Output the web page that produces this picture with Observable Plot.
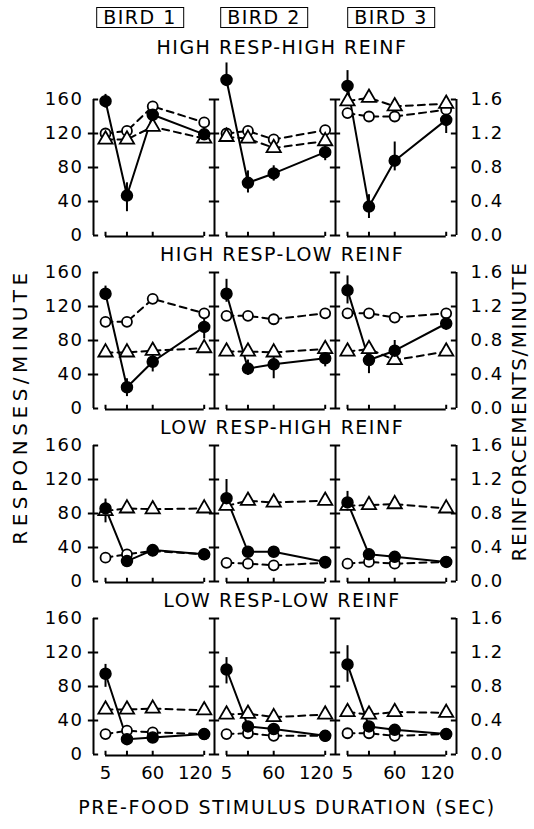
<!DOCTYPE html>
<html>
<head>
<meta charset="utf-8">
<script src="https://cdn.jsdelivr.net/npm/d3@7"></script>
<script src="https://cdn.jsdelivr.net/npm/@observablehq/plot@0.6"></script>
<style>
  body { margin: 0; background: #fff; }
  #wrap { position: relative; width: 534px; height: 829px; background: #fff; font-family: "DejaVu Sans", sans-serif; }
  .bird { position: absolute; top: 7px; height: 19px; line-height: 19px; border: 1.6px solid #000; padding: 0 6px; font-size: 19px; letter-spacing: 1.5px; transform: translateX(-50%); white-space: nowrap; }
  #chart { position: absolute; top: 32px; left: 0; }
  #chart svg text { letter-spacing: 1.5px; }
</style>
</head>
<body>
<div id="wrap"><div id="chart"></div></div>
<script>
// ---- categories & tick labels ----
const birds = ["BIRD 1", "BIRD 2", "BIRD 3"];
const conditions = ["HIGH RESP-HIGH REINF", "HIGH RESP-LOW REINF", "LOW RESP-HIGH REINF", "LOW RESP-LOW REINF"];
const durations = [5, 30, 60, 120];          // pre-food stimulus duration (sec)
const xTickLabels = [5, 60, 120];
const yTicks = [0, 40, 80, 120, 160];        // responses/minute
const reinfPerResp = 100;                    // 1.6 reinf/min  <->  160 resp/min
const yTitleLeft = "RESPONSES/MINUTE";
const yTitleRight = "REINFORCEMENTS/MINUTE";
const xTitle = "PRE-FOOD STIMULUS DURATION (SEC)";
const birdLabelCenters = [140, 264, 391];

// ---- series values [condition][bird][duration] ----
// filled circles: responses/min during pre-food stimulus
const stimResp = [
  [[158, 47, 142, 119], [183, 62, 73, 98], [176, 34, 88, 136]],
  [[135, 25, 55, 96], [135, 47, 52, 59], [139, 57, 68, 100]],
  [[86, 24, 37, 32], [98, 35, 35, 23], [93, 32, 29, 23]],
  [[95, 18, 20, 24], [100, 33, 30, 22], [106, 33, 29, 24]]
];
const errLo = [
  [[150, 28, 136, 112], [176, 50, 64, 88], [166, 20, 76, 120]],
  [[127, 14, 43, 82], [125, 39, 35, 49], [123, 41, 57, 92]],
  [[69, 21, 34, 29], [87, 32, 32, 20], [83, 29, 26, 20]],
  [[79, 15, 17, 21], [83, 30, 27, 19], [85, 30, 26, 21]]
];
const errHi = [
  [[166, 62, 150, 126], [203, 76, 82, 108], [194, 48, 110, 144]],
  [[144, 35, 64, 105], [152, 57, 66, 70], [156, 68, 80, 105]],
  [[97, 27, 40, 35], [120, 38, 38, 26], [106, 35, 32, 26]],
  [[106, 21, 23, 27], [114, 36, 33, 25], [128, 36, 32, 27]]
];
// open circles: baseline responses/min
const baseResp = [
  [[120, 123, 152, 133], [120, 123, 113, 124], [144, 140, 140, 148]],
  [[102, 102, 129, 112], [109, 109, 105, 112], [112, 112, 107, 112]],
  [[28, 32, 36, 32], [22, 21, 19, 22], [21, 23, 21, 23]],
  [[24, 28, 26, 24], [24, 25, 22, 22], [25, 25, 22, 24]]
];
// triangles: reinforcements/min
const reinfRate = [
  [[1.13, 1.13, 1.28, 1.14], [1.16, 1.14, 1.03, 1.11], [1.58, 1.62, 1.52, 1.55]],
  [[0.66, 0.66, 0.68, 0.71], [0.67, 0.67, 0.66, 0.70], [0.67, 0.70, 0.57, 0.67]],
  [[0.83, 0.86, 0.85, 0.86], [0.89, 0.95, 0.93, 0.95], [0.89, 0.90, 0.91, 0.86]],
  [[0.53, 0.53, 0.54, 0.52], [0.47, 0.48, 0.44, 0.47], [0.50, 0.47, 0.50, 0.49]]
];

// ---- tables ----
const records = [];
conditions.forEach((cond, ci) => birds.forEach((bird, bi) => durations.forEach((dur, di) => {
  records.push({cond, bird, dur,
    stim: stimResp[ci][bi][di], lo: errLo[ci][bi][di], hi: errHi[ci][bi][di],
    base: baseResp[ci][bi][di], reinf: reinfRate[ci][bi][di]});
})));
const panels = conditions.flatMap(cond => birds.map(bird => ({cond, bird})));
const edgeTicks = panels.flatMap(p => yTicks.map(v => ({...p, v})));
const bracketTicks = panels.flatMap(p => durations.map(dur => ({...p, dur})));

const xDomain = [-9, 132];
const yDomain = [0, 160];
const tl = 6; // tick half-length in x units
const isEnd = v => v === yDomain[0] || v === yDomain[1];
const F = {fx: "bird", fy: "cond"};
const lw = 2;
const lastX = xTickLabels[xTickLabels.length - 1];

const chart = Plot.plot({
  width: 534,
  height: 797,
  marginLeft: 92,
  marginRight: 77,
  marginTop: 65,
  marginBottom: 74,
  style: {fontFamily: "DejaVu Sans, sans-serif", fontSize: "18px", color: "#000", background: "#fff", overflow: "visible"},
  fx: {domain: birds, padding: 0, axis: null},
  fy: {domain: conditions, paddingInner: 0.215, paddingOuter: 0, axis: null},
  x: {domain: xDomain},
  y: {domain: yDomain},
  marks: [
    Plot.axisY(yTicks, {anchor: "left", tickSize: 0, tickPadding: 10, fontSize: 18, label: null}),
    Plot.axisY(yTicks, {anchor: "right", tickSize: 0, tickPadding: 14, fontSize: 18, label: null,
      tickFormat: d => (d / reinfPerResp).toFixed(1)}),
    Plot.axisX(xTickLabels.filter(t => t !== lastX), {anchor: "bottom", tickSize: 0, tickPadding: 12, fontSize: 18, label: null}),
    Plot.axisX([lastX], {anchor: "bottom", tickSize: 0, tickPadding: 12, fontSize: 18, label: null, dx: -9}),
    // panel vertical edges
    Plot.ruleX(panels, {...F, x: () => xDomain[0], y1: yDomain[0], y2: yDomain[1], strokeWidth: lw}),
    Plot.ruleX(panels.filter(p => p.bird === birds[2]), {...F, x: () => xDomain[1], y1: yDomain[0], y2: yDomain[1], strokeWidth: lw}),
    Plot.ruleY(edgeTicks, {...F, y: "v",
      x1: d => (d.bird === birds[0] && isEnd(d.v)) ? xDomain[0] : xDomain[0] - tl,
      x2: () => xDomain[0] + tl, strokeWidth: lw}),
    Plot.ruleY(edgeTicks.filter(d => d.bird === birds[2]), {...F, y: "v",
      x1: () => xDomain[1] - tl, x2: () => xDomain[1], strokeWidth: lw}),
    // bottom duration bracket
    Plot.ruleY(panels, {...F, y: () => 0, x1: () => durations[0], x2: () => durations[durations.length - 1], strokeWidth: lw, dy: 1}),
    Plot.ruleX(bracketTicks, {...F, x: "dur", y1: () => 0, y2: () => 5, strokeWidth: lw, dy: 1}),
    // dashed series
    Plot.line(records, {...F, x: "dur", y: "base", stroke: "#000", strokeWidth: lw, strokeDasharray: "7,5"}),
    Plot.line(records, {...F, x: "dur", y: d => d.reinf * reinfPerResp, stroke: "#000", strokeWidth: lw, strokeDasharray: "7,5"}),
    // solid series
    Plot.line(records, {...F, x: "dur", y: "stim", stroke: "#000", strokeWidth: lw}),
    Plot.ruleX(records.filter(d => d.hi > d.lo), {...F, x: "dur", y1: "lo", y2: "hi", strokeWidth: lw}),
    // markers
    Plot.dot(records, {...F, x: "dur", y: "base", r: 5, fill: "#fff", stroke: "#000", strokeWidth: 1.8}),
    Plot.dot(records, {...F, x: "dur", y: d => d.reinf * reinfPerResp, symbol: "triangle", r: 5.3, fill: "#fff", stroke: "#000", strokeWidth: 1.8}),
    Plot.dot(records, {...F, x: "dur", y: "stim", r: 5.5, fill: "#000", stroke: "#000"}),
    // row titles
    Plot.text(conditions.slice(0, 1), {fx: () => birds[1], fy: d => d, text: d => d, frameAnchor: "top", lineAnchor: "middle", textAnchor: "middle", dy: -52, dx: 7, fontSize: 19}),
    Plot.text(conditions.slice(1), {fx: () => birds[1], fy: d => d, text: d => d, frameAnchor: "top", lineAnchor: "middle", textAnchor: "middle", dy: -18, dx: 7, fontSize: 19}),
    // axis titles
    Plot.text([yTitleLeft], {fx: () => birds[0], fy: () => conditions[1], text: d => d, frameAnchor: "left", textAnchor: "middle", lineAnchor: "middle", dx: -73, dy: 66, rotate: -90, fontSize: 20}),
    Plot.text([yTitleRight], {fx: () => birds[2], fy: () => conditions[1], text: d => d, frameAnchor: "right", textAnchor: "middle", lineAnchor: "middle", dx: 63, dy: 71, rotate: -90, fontSize: 20}),
    Plot.text([xTitle], {fx: () => birds[1], fy: () => conditions[3], text: d => d, frameAnchor: "bottom", textAnchor: "middle", lineAnchor: "middle", dy: 53, dx: 12, fontSize: 19})
  ]
});
document.getElementById("chart").appendChild(chart);

const svgSel = d3.select(chart);
svgSel.selectAll("text").filter(function () { return this.textContent === yTitleLeft; }).style("letter-spacing", "4.5px");
svgSel.selectAll("text").filter(function () { return this.textContent === xTitle; }).style("letter-spacing", "1.7px");
svgSel.selectAll('g[aria-label="x-axis tick label"] text').style("letter-spacing", "0px");

const wrap = d3.select("#wrap");
birds.forEach((b, i) => {
  wrap.append("div").attr("class", "bird").style("left", birdLabelCenters[i] + "px").text(b);
});
</script>
</body>
</html>
